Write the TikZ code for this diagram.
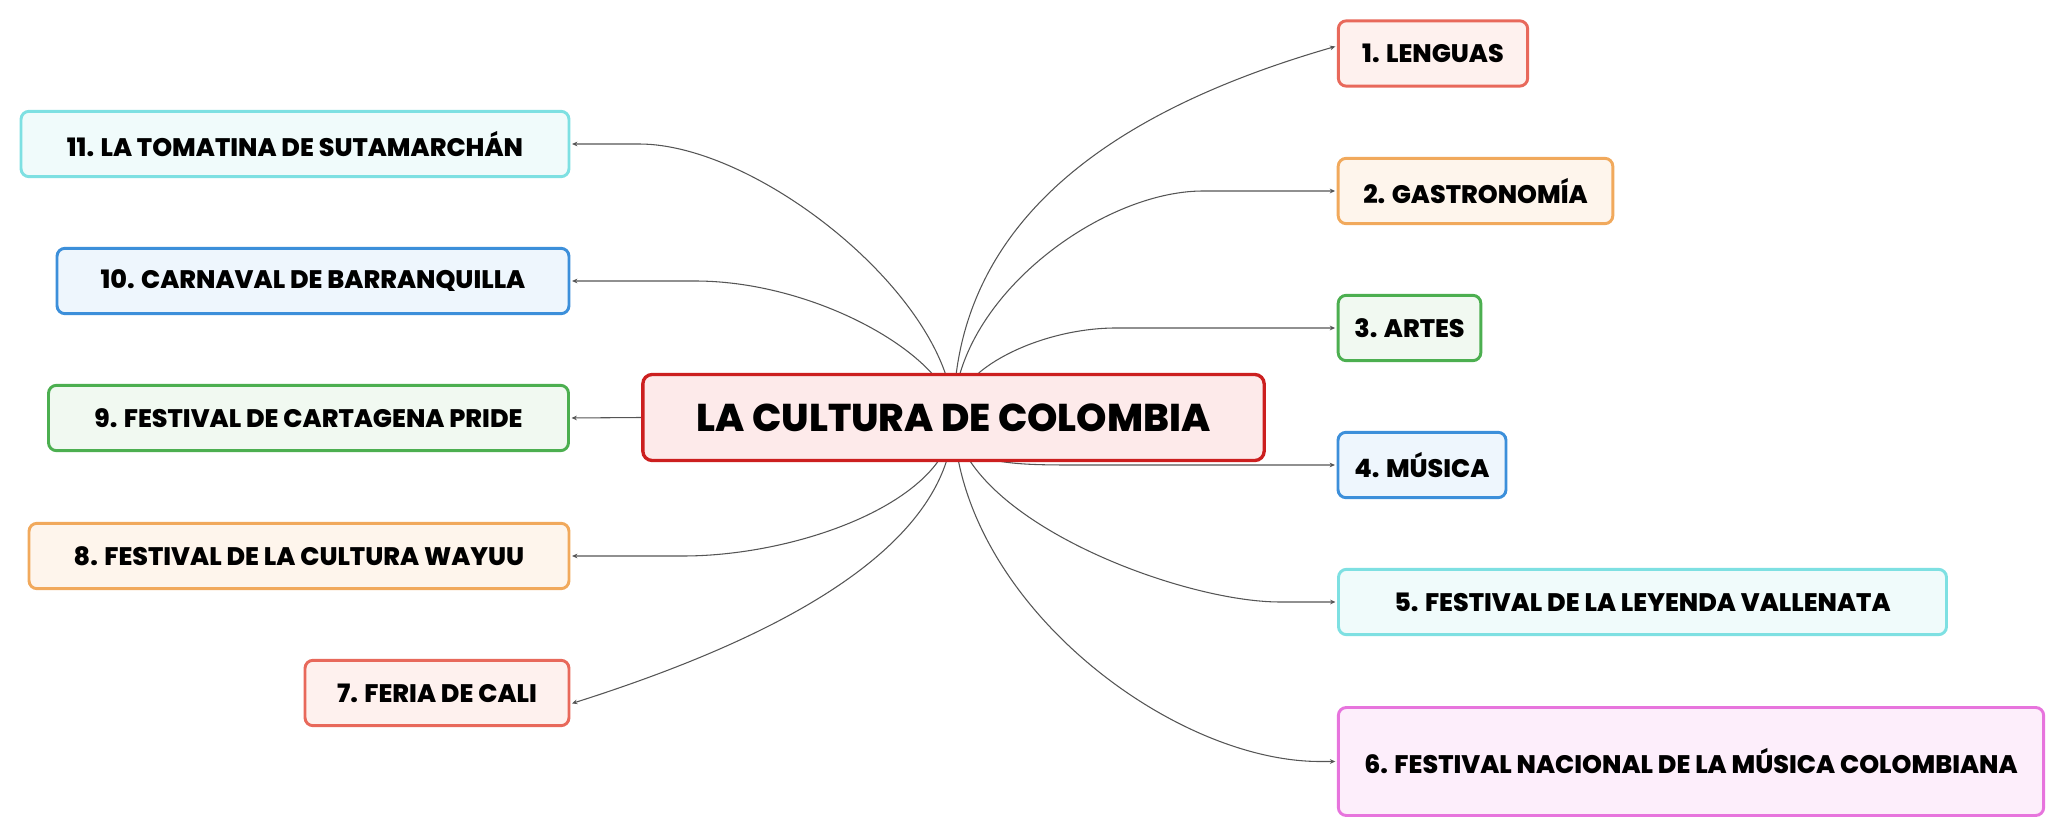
\documentclass[tikz,border=0pt]{standalone}
\usepackage{fontspec}
\setmainfont{Poppins}[BoldFont={Poppins ExtraBold}]
\usetikzlibrary{arrows.meta,backgrounds}

\definecolor{redline}{HTML}{E8695B}\definecolor{redfill}{HTML}{FEF1EE}
\definecolor{orgline}{HTML}{F1A95C}\definecolor{orgfill}{HTML}{FEF5EC}
\definecolor{grnline}{HTML}{4CAF50}\definecolor{grnfill}{HTML}{F1F9F1}
\definecolor{bluline}{HTML}{3C8FDA}\definecolor{blufill}{HTML}{EEF6FD}
\definecolor{cyaline}{HTML}{7EE0E2}\definecolor{cyafill}{HTML}{F0FBFB}
\definecolor{magline}{HTML}{E774DD}\definecolor{magfill}{HTML}{FDEEFB}
\definecolor{rootline}{HTML}{CC1F1F}\definecolor{rootfill}{HTML}{FDEAEA}
\definecolor{linkgray}{HTML}{555555}

\begin{document}
\begin{tikzpicture}[x=0.75pt,y=0.75pt,yscale=-1,xscale=1,
	topic/.style 2 args={draw=#1,fill=#2,line width=2.2pt,rounded corners=6pt,minimum height=49pt,inner sep=0pt,font=\fontsize{19pt}{22pt}\selectfont\bfseries},
	link/.style={draw=linkgray,line width=0.8pt,-{Stealth[length=4pt,width=3.5pt]},shorten >=1.2pt}]
	\useasboundingbox (0,0) rectangle (2064,837);
	% central topic
	\node [draw=rootline,fill=rootfill,line width=2.5pt,rounded corners=7pt,minimum width=466pt,minimum height=64.5pt,font=\fontsize{29pt}{34pt}\selectfont\bfseries] (root) at (953.5,417.5) {LA CULTURA DE COLOMBIA};
	% right branch
	\node [topic={redline}{redfill},minimum width=142pt] (lenguas) at (1433,53.5) {1. LENGUAS};
	\node [topic={orgline}{orgfill},minimum width=206pt] (gastro) at (1475.5,191) {2. GASTRONOMÍA};
	\node [topic={grnline}{grnfill},minimum width=107pt] (artes) at (1409.5,328) {3. ARTES};
	\node [topic={bluline}{blufill},minimum width=126pt] (musica) at (1422,465) {4. MÚSICA};
	\node [topic={cyaline}{cyafill},minimum width=456pt] (vallenata) at (1642.5,602) {5. FESTIVAL DE LA LEYENDA VALLENATA};
	\node [topic={magline}{magfill},minimum width=529pt,minimum height=81pt] (nacional) at (1691,761.5) {6. FESTIVAL NACIONAL DE LA MÚSICA COLOMBIANA};
	% left branch
	\node [topic={redline}{redfill},minimum width=198pt] (cali) at (437,693) {7. FERIA DE CALI};
	\node [topic={orgline}{orgfill},minimum width=405pt] (wayuu) at (299,556) {8. FESTIVAL DE LA CULTURA WAYUU};
	\node [topic={grnline}{grnfill},minimum width=390pt] (pride) at (308.5,418) {9. FESTIVAL DE CARTAGENA PRIDE};
	\node [topic={bluline}{blufill},minimum width=384pt] (carnaval) at (313,281) {10. CARNAVAL DE BARRANQUILLA};
	\node [topic={cyaline}{cyafill},minimum width=411pt] (tomatina) at (295,144) {11. LA TOMATINA DE SUTAMARCHÁN};
	% connectors
	\begin{pgfonlayer}{background}
	\draw [link] (root.center) .. controls (953,200) and (1150,100) .. ([yshift=-5.6pt]lenguas.west);
	\draw [link] (root.center) .. controls (953,300) and (1100,191) .. (1203,191) -- (gastro.west);
	\draw [link] (root.center) .. controls (953,370) and (1040,328) .. (1116,328) -- (artes.west);
	\draw [link] (root.center) .. controls (953,462) and (1000,465) .. (1070,465) -- (musica.west);
	\draw [link] (root.center) .. controls (963,520) and (1180,602) .. (1280,602) -- (vallenata.west);
	\draw [link] (root.center) .. controls (958,600) and (1170,761.5) .. (1320,761.5) -- (nacional.west);
	\draw [link] (root.center) .. controls (953,560) and (740,650) .. ([yshift=8.2pt]cali.east);
	\draw [link] (root.center) .. controls (953,500) and (800,556) .. (683,556) -- (wayuu.east);
	\draw [link] (root.west) -- (pride.east);
	\draw [link] (root.center) .. controls (953,360) and (820,281) .. (695,281) -- (carnaval.east);
	\draw [link] (root.center) .. controls (953,300) and (760,144) .. (639,144) -- (tomatina.east);
	\end{pgfonlayer}
\end{tikzpicture}
\end{document}
